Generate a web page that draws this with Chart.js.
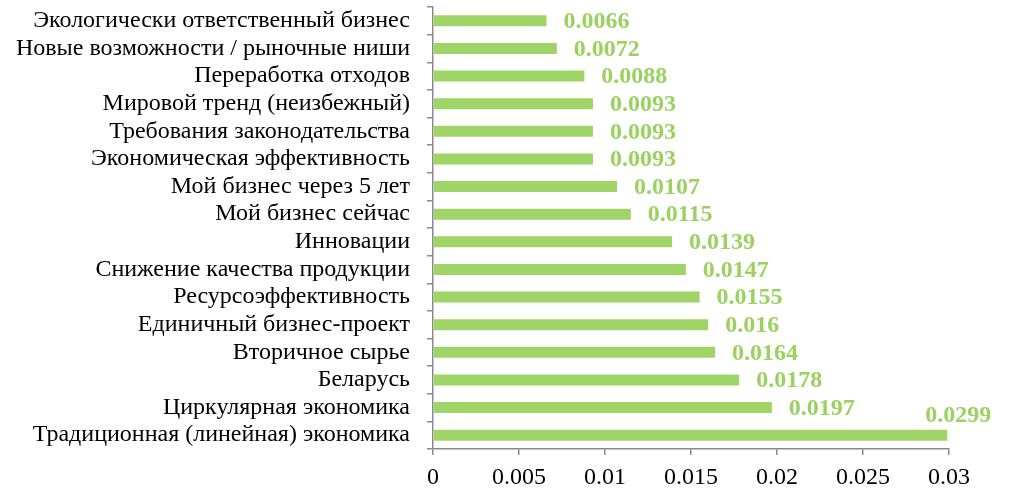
<!DOCTYPE html>
<html>
<head>
<meta charset="utf-8">
<script src="https://cdn.jsdelivr.net/npm/chart.js@4/dist/chart.umd.min.js"></script>
<style>
html,body{margin:0;padding:0;background:#fff;}
#wrap{width:1012px;height:490px;position:relative;}
</style>
</head>
<body>
<div id="wrap"><canvas id="c" width="1012" height="490"></canvas></div>
<script>
const categories = [
  "Экологически ответственный бизнес",
  "Новые возможности / рыночные ниши",
  "Переработка отходов",
  "Мировой тренд (неизбежный)",
  "Требования законодательства",
  "Экономическая эффективность",
  "Мой бизнес через 5 лет",
  "Мой бизнес сейчас",
  "Инновации",
  "Снижение качества продукции",
  "Ресурсоэффективность",
  "Единичный бизнес-проект",
  "Вторичное сырье",
  "Беларусь",
  "Циркулярная экономика",
  "Традиционная (линейная) экономика"
];
const values = [0.0066, 0.0072, 0.0088, 0.0093, 0.0093, 0.0093, 0.0107, 0.0115, 0.0139, 0.0147, 0.0155, 0.016, 0.0164, 0.0178, 0.0197, 0.0299];
const xTicks = [0, 0.005, 0.01, 0.015, 0.02, 0.025, 0.03];

const GREEN = '#9fd466';
const LABEL_GREEN = '#9ad25f';
const AXIS = '#8a8a8a';
const SERIF = '"Liberation Serif", "Times New Roman", serif';

const valueLabels = {
  id: 'valueLabels',
  afterDatasetsDraw(chart) {
    const ctx = chart.ctx;
    const meta = chart.getDatasetMeta(0);
    ctx.save();
    ctx.beginPath();
    ctx.rect(0, 0, 990, chart.height);
    ctx.clip();
    ctx.font = 'bold 24px ' + SERIF;
    ctx.fillStyle = LABEL_GREEN;
    ctx.textBaseline = 'middle';
    ctx.textAlign = 'left';
    meta.data.forEach((bar, i) => {
      const txt = String(values[i]);
      const w = ctx.measureText(txt).width;
      let x = bar.x + 17;
      let y = bar.y + 1;
      if (x + w > chart.width - 20) {
        x = bar.x - 22;
        y = bar.y - 19;
      }
      ctx.fillText(txt, x, y);
    });
    ctx.restore();
  }
};

new Chart(document.getElementById('c'), {
  type: 'bar',
  data: {
    labels: categories,
    datasets: [{
      data: values,
      backgroundColor: GREEN,
      borderWidth: 0,
      barPercentage: 0.4,
      categoryPercentage: 1.0
    }]
  },
  options: {
    indexAxis: 'y',
    responsive: false,
    animation: false,
    devicePixelRatio: 1,
    layout: { padding: { top: 7, right: 63, bottom: 0, left: 0 } },
    plugins: { legend: { display: false }, tooltip: { enabled: false } },
    scales: {
      x: {
        type: 'linear',
        min: 0,
        max: 0.03,
        afterBuildTicks(scale) { scale.ticks = xTicks.map(v => ({ value: v })); },
        afterFit(scale) { scale.height = 41; scale.paddingLeft = 0; scale.paddingRight = 0; },
        ticks: {
          color: '#000',
          font: { family: SERIF, size: 24 },
          padding: 8,
          maxRotation: 0,
          callback: v => String(v)
        },
        grid: { display: true, drawOnChartArea: false, drawTicks: true, tickLength: 6, color: AXIS, lineWidth: 1.5 },
        border: { display: true, color: AXIS, width: 1.5 }
      },
      y: {
        type: 'category',
        afterFit(scale) { scale.width = 433; scale.paddingTop = 0; scale.paddingBottom = 0; },
        ticks: {
          color: '#000',
          font: { family: SERIF, size: 24 },
          padding: 17,
          autoSkip: false
        },
        grid: { display: true, drawOnChartArea: false, drawTicks: true, tickLength: 6, color: AXIS, lineWidth: 1.5, offset: true },
        border: { display: true, color: AXIS, width: 1.5 }
      }
    }
  },
  plugins: [valueLabels]
});
</script>
</body>
</html>
